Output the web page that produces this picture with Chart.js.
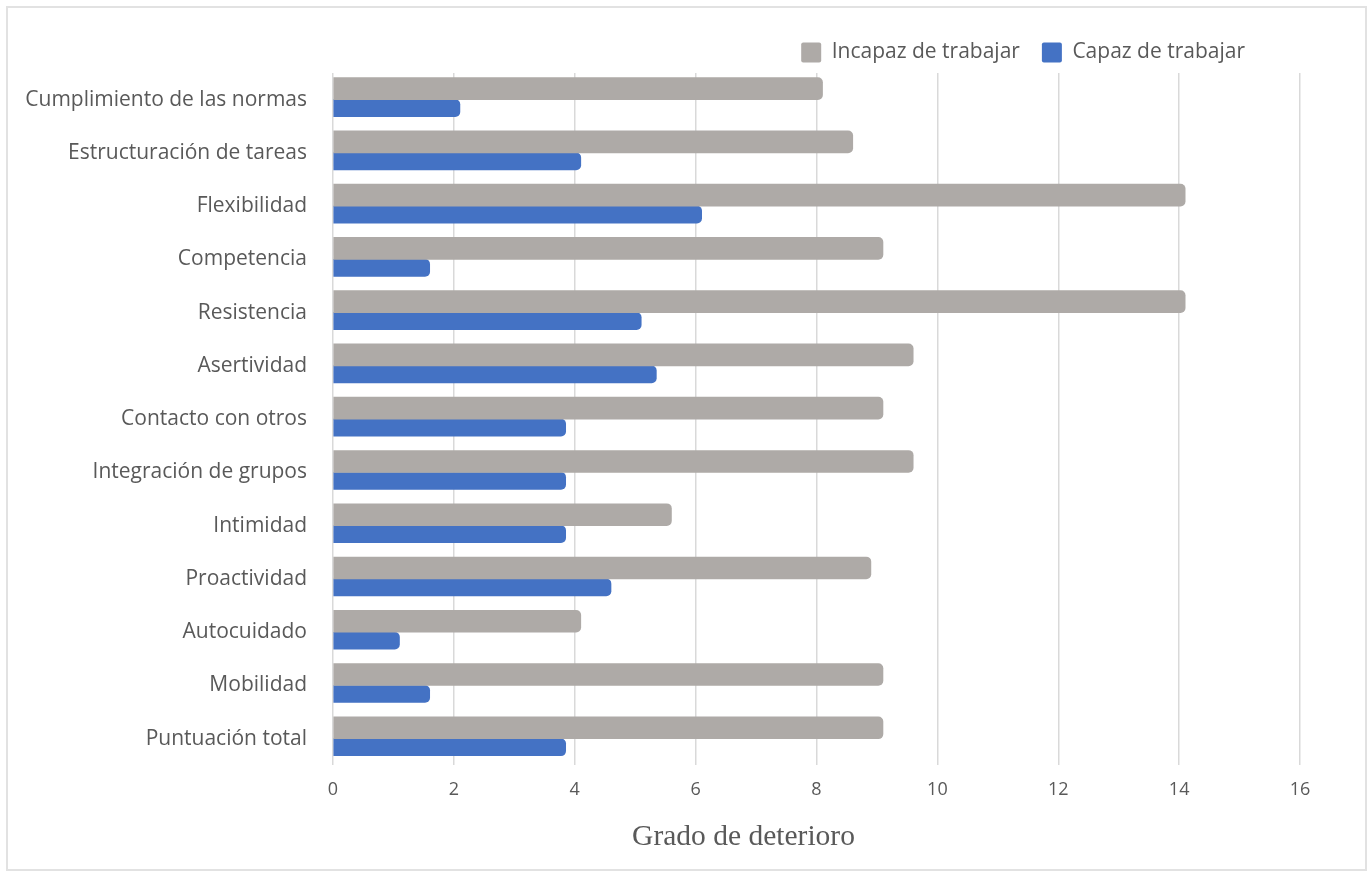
<!DOCTYPE html>
<html>
<head>
<meta charset="utf-8">
<script src="https://cdn.jsdelivr.net/npm/chart.js@4"></script>
<style>
  body { margin: 0; background: #fff; }
  #frame {
    position: absolute; left: 6px; top: 6px; width: 1361px; height: 865px;
    border: 2px solid #e2e2e2; box-sizing: border-box; pointer-events: none;
  }
  #wrap { position: absolute; left: 0; top: 0; width: 1371px; height: 875px; }
</style>
</head>
<body>
<div id="wrap"><canvas id="bar-chart"></canvas></div>
<div id="frame"></div>
<script>
const categories = [
  'Cumplimiento de las normas',
  'Estructuración de tareas',
  'Flexibilidad',
  'Competencia',
  'Resistencia',
  'Asertividad',
  'Contacto con otros',
  'Integración de grupos',
  'Intimidad',
  'Proactividad',
  'Autocuidado',
  'Mobilidad',
  'Puntuación total'
]
const incapaz = [8.1, 8.6, 14.1, 9.1, 14.1, 9.6, 9.1, 9.6, 5.6, 8.9, 4.1, 9.1, 9.1]
const capaz = [2.1, 4.1, 6.1, 1.6, 5.1, 5.35, 3.85, 3.85, 3.85, 4.6, 1.1, 1.6, 3.85]
const xTicks = [0, 2, 4, 6, 8, 10, 12, 14, 16]
const axisTitle = 'Grado de deterioro'

const textColor = '#595959'

// draws the x axis title a bit left of centre, like the original
const axisTitlePlugin = {
  id: 'axisTitle',
  afterDraw (chart) {
    const { ctx, chartArea } = chart
    ctx.save()
    ctx.font = '29.5px "Liberation Serif"'
    ctx.fillStyle = textColor
    ctx.textAlign = 'center'
    ctx.textBaseline = 'middle'
    ctx.fillText(axisTitle, (chartArea.left + chartArea.right) / 2 - 73, chartArea.bottom + 72)
    ctx.restore()
  }
}

// moves the legend in from the right edge
const legendShift = {
  id: 'legendShift',
  afterLayout (chart) {
    chart.legend.right -= 33
  }
}

// eslint-disable-next-line no-unused-vars, no-undef
const chart = new Chart(document.querySelector('#bar-chart'), {
  type: 'bar',
  data: {
    labels: categories,
    datasets: [{
      label: 'Incapaz de trabajar',
      data: incapaz,
      backgroundColor: '#aeaaa7',
      barThickness: 22,
      borderRadius: { topRight: 5, bottomRight: 5 },
      borderSkipped: false
    }, {
      label: 'Capaz de trabajar',
      data: capaz,
      backgroundColor: '#4472c4',
      barThickness: 17,
      borderRadius: { topRight: 5, bottomRight: 5 },
      borderSkipped: false
    }]
  },
  options: {
    indexAxis: 'y',
    responsive: true,
    maintainAspectRatio: false,
    animation: false,
    categoryPercentage: 0.72,
    barPercentage: 1,
    layout: { padding: { left: 8, right: 71, top: 20, bottom: 60 } },
    scales: {
      x: {
        min: 0,
        max: 16,
        afterBuildTicks (scale) {
          scale.ticks = xTicks.map(v => ({ value: v }))
        },
        grid: { color: '#d9d9d9', lineWidth: 1.5, drawTicks: false },
        border: { display: false },
        ticks: {
          color: textColor,
          font: { family: 'Open Sans', size: 18 },
          padding: 14
        }
      },
      y: {
        afterFit (scale) {
          scale.width = 325
        },
        grid: { display: false, drawTicks: false },
        border: { display: false },
        ticks: {
          color: textColor,
          font: { family: 'Open Sans', size: 21 },
          padding: 26
        }
      }
    },
    plugins: {
      legend: {
        display: true,
        position: 'top',
        align: 'end',
        labels: {
          color: textColor,
          font: { family: 'Open Sans', size: 21 },
          boxWidth: 20,
          boxHeight: 20,
          padding: 22,
          useBorderRadius: true,
          borderRadius: 2
        }
      },
      tooltip: { enabled: false },
      title: { display: false }
    }
  },
  plugins: [axisTitlePlugin, legendShift]
})
</script>
</body>
</html>
